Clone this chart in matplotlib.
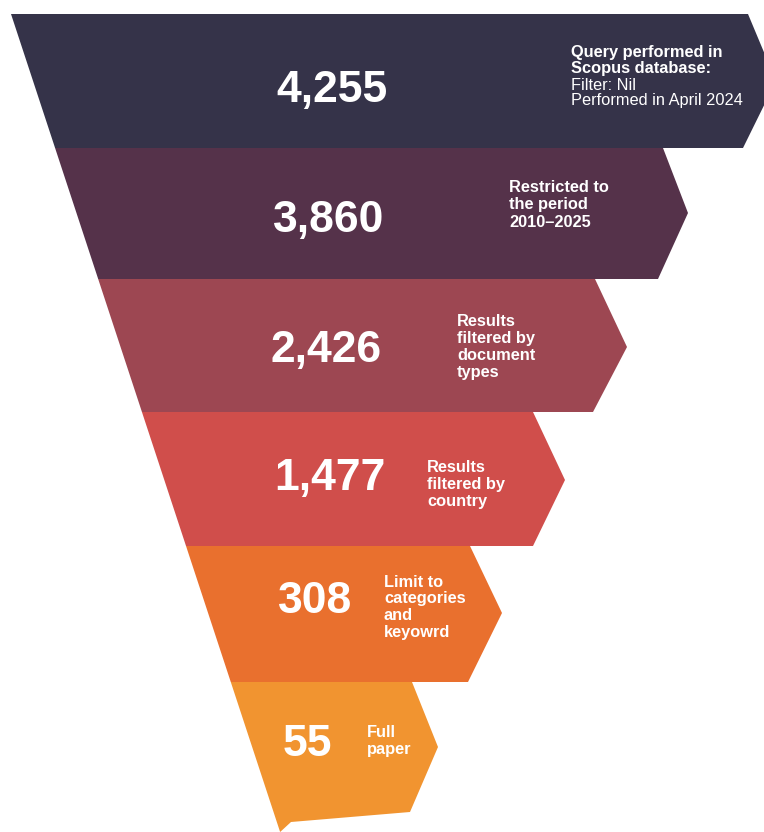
"""
    Literature search funnel
    Scopus query screening steps drawn as stacked arrow bands.
"""
import matplotlib
matplotlib.use('Agg')
import matplotlib.pyplot as plt
from matplotlib.patches import Polygon

# records left after each screening step
counts = [4255, 3860, 2426, 1477, 308, 55]
steps = [
    ['Query performed in', 'Scopus database:', 'Filter: Nil', 'Performed in April 2024'],
    ['Restricted to', 'the period', '2010\u20132025'],
    ['Results', 'filtered by', 'document', 'types'],
    ['Results', 'filtered by', 'country'],
    ['Limit to', 'categories', 'and', 'keyowrd'],
    ['Full', 'paper'],
]
bold_lines = [[True, True, False, False], None, None, None, None, None]
band_colors = ['#353349', '#55324a', '#9d4752', '#d04e4b', '#e9702e', '#f19430']

# band layout in pixel units (y grows downwards)
band_edges = [14, 148, 279, 412, 546, 682, 832]
right_top = [748, 663, 595, 533, 470, 412]
right_bottom = [743, 658, 593, 533, 468, 410]
tip_x = [776, 688, 627, 565, 502, 438]
tip_y = [81, 213, 347, 480, 613, 747]
num_x = [332, 329, 326, 330, 315, 307]
num_base = [102, 232, 362, 490, 613, 756]
note_x = [571, 509, 457, 427, 384, 367]
note_base = [[57, 73, 90, 105], [192, 209, 227], [326, 343, 360, 377],
             [472, 489, 506], [587, 603, 620, 637], [737, 754]]


def left_edge(y):
    """x of the slanted left side of the funnel"""
    return 11 + 0.329 * (y - 14)


plt.rcParams['font.family'] = ['Liberation Sans', 'DejaVu Sans']

fig = plt.figure(figsize=(7.64, 8.32), dpi=100)
ax = fig.add_axes([0, 0, 1, 1])
ax.set_xlim(0, 764)
ax.set_ylim(832, 0)
ax.axis('off')

for i, value in enumerate(counts):
    top = band_edges[i]
    bottom = band_edges[i + 1]
    pts = [(left_edge(top), top), (right_top[i], top), (tip_x[i], tip_y[i])]
    if i == len(counts) - 1:
        # last band closes with a short slanted foot
        pts += [(right_bottom[i], 812), (291, 822), (left_edge(bottom), bottom)]
    else:
        pts += [(right_bottom[i], bottom), (left_edge(bottom), bottom)]
    ax.add_patch(Polygon(pts, closed=True, facecolor=band_colors[i],
                         edgecolor='none', zorder=2 + i))

    ax.text(num_x[i], num_base[i], f'{value:,}', color='white', fontsize=32,
            fontweight='bold', ha='center', va='baseline', zorder=20)

    for j, line in enumerate(steps[i]):
        weight = 'bold'
        if bold_lines[i] is not None and not bold_lines[i][j]:
            weight = 'normal'
        ax.text(note_x[i], note_base[i][j], line, color='white', fontsize=11.8,
                fontweight=weight, ha='left', va='baseline', zorder=20)

fig.savefig('out.png', dpi=100, facecolor='white')
